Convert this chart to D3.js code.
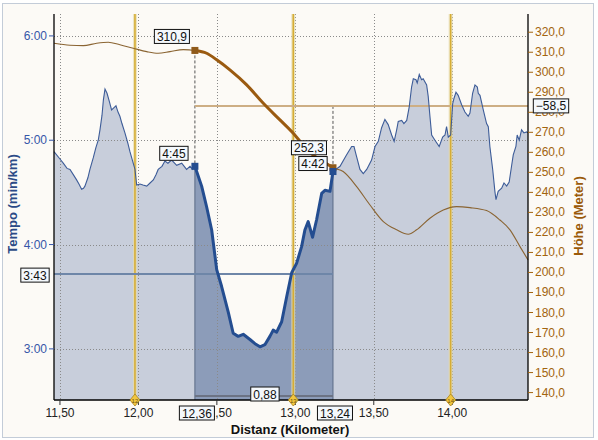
<!DOCTYPE html>
<html><head><meta charset="utf-8">
<script src="https://cdn.jsdelivr.net/npm/d3@7"></script>
<style>
body{margin:0;background:#ffffff}
svg{display:block}
text{font-family:"Liberation Sans",Arial,sans-serif}
</style>
</head><body>
<svg id="chart" width="598" height="440"></svg>
<script>
// ---------- data ----------
const paceDist = [11.462,11.50,11.521,11.545,11.564,11.585,11.606,11.621,11.638,11.650,11.659,11.678,11.691,11.712,11.729,11.744,11.755,11.768,11.777,11.787,11.800,11.815,11.829,11.843,11.857,11.870,11.882,11.895,11.914,11.933,11.946,11.965,11.978,11.989,12.010,12.029,12.053,12.074,12.095,12.112,12.126,12.150,12.169,12.188,12.212,12.244,12.276,12.307,12.329,12.346,12.36,
  12.403,12.435,12.467,12.499,12.530,12.573,12.604,12.636,12.668,12.711,12.743,12.775,12.806,12.838,12.859,12.881,12.913,12.945,12.977,13.008,13.040,13.061,13.082,13.110,13.136,13.168,13.189,13.221,13.24,
  13.285,13.327,13.359,13.374,13.391,13.412,13.433,13.455,13.486,13.508,13.529,13.550,13.571,13.592,13.614,13.630,13.646,13.656,13.678,13.692,13.710,13.726,13.741,13.752,13.769,13.777,13.790,13.805,13.815,13.837,13.847,13.858,13.869,13.890,13.917,13.939,13.954,13.964,13.975,13.990,14.003,14.011,14.024,14.038,14.060,14.081,14.102,14.113,14.130,14.145,14.160,14.166,14.177,14.198,14.219,14.230,14.240,14.258,14.272,14.279,14.293,14.315,14.330,14.347,14.363,14.379,14.389,14.406,14.414,14.427,14.442,14.457,14.474,14.483];
const paceVal = [4.89,4.82,4.78,4.73,4.72,4.67,4.62,4.58,4.53,4.54,4.56,4.64,4.72,4.83,4.93,5.00,5.10,5.24,5.39,5.49,5.45,5.37,5.29,5.31,5.33,5.27,5.23,5.16,5.07,4.97,4.89,4.79,4.72,4.57,4.58,4.57,4.56,4.59,4.62,4.67,4.72,4.75,4.80,4.78,4.81,4.76,4.78,4.72,4.75,4.72,4.75,
  4.56,4.36,4.14,3.76,3.60,3.35,3.15,3.12,3.14,3.09,3.05,3.02,3.04,3.12,3.18,3.16,3.26,3.50,3.73,3.82,3.98,4.14,4.22,4.07,4.24,4.49,4.52,4.51,4.70,
  4.75,4.86,4.94,4.94,4.84,4.72,4.68,4.72,4.81,4.94,4.99,5.12,5.20,5.15,5.05,4.99,5.10,5.18,5.19,5.16,5.19,5.32,5.51,5.59,5.58,5.55,5.63,5.58,5.59,5.53,5.42,5.23,5.05,5.00,4.94,5.03,5.05,5.13,5.03,5.05,5.35,5.40,5.46,5.43,5.34,5.27,5.23,5.26,5.45,5.53,5.51,5.45,5.43,5.29,5.16,5.13,4.94,4.72,4.51,4.43,4.51,4.54,4.59,4.56,4.60,4.76,4.86,4.94,5.05,5.00,5.10,5.07,5.08,5.07];

const altDist = [11.462,11.564,11.649,11.734,11.808,11.882,11.967,12.053,12.126,12.201,12.286,12.36,12.435,12.499,12.583,12.690,12.796,12.902,12.987,13.040,13.104,13.178,13.24,13.305,13.391,13.476,13.561,13.646,13.720,13.773,13.858,13.943,14.028,14.113,14.219,14.304,14.368,14.432,14.483];
const altVal = [314.5,313.5,313.3,314.5,315.0,313.7,312.0,310.3,309.5,310.3,311.3,310.9,309.5,306.2,301.2,293.7,284.5,276.2,269.5,264.6,259.2,255.4,252.3,250.4,242.9,233.7,225.4,221.3,219.1,221.3,227.1,231.2,232.9,232.4,230.9,226.2,221.3,212.9,206.3];

const xTicks = [11.5,12,12.5,13,13.5,14];
const paceTicks = [3,4,5,6];
const altTicks = [140,150,160,170,180,190,200,210,220,230,240,250,260,270,280,290,300,310,320];
const kmMarkerDist = [11.978,12.987,13.990];
const kmMarkerLabel = ["12","13","14"];

const selStart = 12.36, selEnd = 13.24;
const selAltStart = 310.9, selAltEnd = 252.3;
const selPaceStart = 4.75, selPaceEnd = 4.70;
const selAvgPace = 3 + 43/60;
const selAltDiff = -58.5;
const selAltRef = 283.2;
const selLength = 0.88;

// ---------- layout ----------
const L = 54, R = 528, T = 14, B = 400;
const svg = d3.select("#chart");
const x = d3.scaleLinear().domain([11.462, 14.483]).range([L, R]);
const yP = d3.scaleLinear().domain([2.51, 6.21]).range([B, T]);
const yA = d3.scaleLinear().domain([136.3, 329.1]).range([B, T]);

const fmtKm = v => d3.format(".2f")(v).replace(".", ",");
const fmtAlt = v => d3.format(".1f")(v).replace(".", ",");
const fmtPace = v => { let m = Math.floor(v), s = Math.round((v - m) * 60); if (s === 60) { m++; s = 0; } return m + ":" + String(s).padStart(2, "0"); };

// frame
svg.append("rect").attr("x", 0).attr("y", 0).attr("width", 598).attr("height", 440).attr("fill", "#ffffff");
svg.append("rect").attr("x", 2.5).attr("y", 3.5).attr("width", 591).attr("height", 434)
  .attr("fill", "#fcfaf6").attr("stroke", "#c3ccd8");

const pace = paceDist.map((d, i) => ({d, v: paceVal[i]}));
const alt = altDist.map((d, i) => ({d, v: altVal[i]}));
const paceSel = pace.filter(p => p.d >= selStart - 1e-9 && p.d <= selEnd + 1e-9);
const altSel = alt.filter(p => p.d >= selStart - 1e-9 && p.d <= selEnd + 1e-9);

const area = d3.area().x(p => x(p.d)).y0(B).y1(p => yP(p.v));
const paceLine = d3.line().x(p => x(p.d)).y(p => yP(p.v));
const altLine = d3.line().x(p => x(p.d)).y(p => yA(p.v)).curve(d3.curveMonotoneX);

// fills
svg.append("path").datum(pace).attr("d", area).attr("fill", "#c8cedb");
svg.append("path").datum(paceSel).attr("d", area).attr("fill", "#8c9cb9");

// gridlines
const grid = svg.append("g").attr("stroke", "#8a8a8a").attr("stroke-width", 1).attr("stroke-dasharray", "1,2");
xTicks.forEach(t => grid.append("line").attr("x1", Math.round(x(t)) + 0.5).attr("x2", Math.round(x(t)) + 0.5).attr("y1", T).attr("y2", B));
paceTicks.forEach(t => grid.append("line").attr("x1", L).attr("x2", R).attr("y1", Math.round(yP(t)) + 0.5).attr("y2", Math.round(yP(t)) + 0.5));

// km marker lines
kmMarkerDist.forEach(d => {
  svg.append("line").attr("x1", x(d)).attr("x2", x(d)).attr("y1", T).attr("y2", B)
    .attr("stroke", "#e6dcae").attr("stroke-width", 4).attr("opacity", 0.7);
  svg.append("line").attr("x1", x(d)).attr("x2", x(d)).attr("y1", T).attr("y2", B)
    .attr("stroke", "#d6ad35").attr("stroke-width", 1.6);
});

// selection edges
svg.append("line").attr("x1", x(selStart)).attr("x2", x(selStart)).attr("y1", yP(selPaceStart)).attr("y2", B).attr("stroke", "#5a6a86").attr("stroke-width", 1);
svg.append("line").attr("x1", x(selEnd)).attr("x2", x(selEnd)).attr("y1", yP(selPaceEnd)).attr("y2", B).attr("stroke", "#5a6a86").attr("stroke-width", 1);
svg.append("line").attr("x1", x(selStart)).attr("x2", x(selStart)).attr("y1", yA(selAltStart)).attr("y2", yP(selPaceStart)).attr("stroke", "#555").attr("stroke-dasharray", "3,2");
svg.append("line").attr("x1", x(selEnd)).attr("x2", x(selEnd)).attr("y1", yA(selAltRef)).attr("y2", yP(selPaceEnd)).attr("stroke", "#555").attr("stroke-dasharray", "3,2");

// average pace line
svg.append("line").attr("x1", L).attr("x2", x(selEnd)).attr("y1", yP(selAvgPace)).attr("y2", yP(selAvgPace))
  .attr("stroke", "#6e86a8").attr("stroke-width", 2);
// altitude reference line
svg.append("line").attr("x1", x(selStart)).attr("x2", R).attr("y1", yA(selAltRef)).attr("y2", yA(selAltRef))
  .attr("stroke", "#cdae84").attr("stroke-width", 2);
// length line
svg.append("line").attr("x1", x(selStart)).attr("x2", x(selEnd)).attr("y1", B - 4).attr("y2", B - 4)
  .attr("stroke", "#6c7384").attr("stroke-width", 2);

// pace lines
svg.append("path").datum(pace).attr("d", paceLine).attr("fill", "none").attr("stroke", "#3d5c98").attr("stroke-width", 1.1);
svg.append("path").datum(paceSel).attr("d", paceLine).attr("fill", "none").attr("stroke", "#244d90").attr("stroke-width", 3).attr("stroke-linejoin", "round");

// altitude lines
svg.append("path").datum(alt).attr("d", altLine).attr("fill", "none").attr("stroke", "#8a6432").attr("stroke-width", 1.1);
svg.append("path").datum(altSel).attr("d", altLine).attr("fill", "none").attr("stroke", "#9a5a10").attr("stroke-width", 3);

// markers
[[selStart, yA(selAltStart), "#8f5a1a"], [selEnd, yA(selAltEnd), "#8f5a1a"], [selStart, yP(selPaceStart), "#244d90"], [selEnd, yP(selPaceEnd), "#244d90"]]
  .forEach(([d, yy, c]) => svg.append("rect").attr("x", x(d) - 3.5).attr("y", yy - 3.5).attr("width", 7).attr("height", 7).attr("fill", c));

// axes lines
const ax = svg.append("g").attr("stroke", "#000").attr("stroke-width", 1.3);
ax.append("line").attr("x1", L).attr("x2", L).attr("y1", T).attr("y2", B);
ax.append("line").attr("x1", R).attr("x2", R).attr("y1", T).attr("y2", B);
ax.append("line").attr("x1", L).attr("x2", R).attr("y1", B).attr("y2", B);

// x ticks
const xa = svg.append("g");
xTicks.forEach(t => {
  xa.append("line").attr("x1", x(t)).attr("x2", x(t)).attr("y1", B).attr("y2", B + 5).attr("stroke", "#333");
  xa.append("text").attr("x", x(t)).attr("y", B + 17).attr("text-anchor", "middle").attr("font-size", 12).attr("fill", "#222").text(fmtKm(t));
});
// left ticks
paceTicks.forEach(t => {
  svg.append("line").attr("x1", L - 5).attr("x2", L).attr("y1", yP(t)).attr("y2", yP(t)).attr("stroke", "#3656a8");
  svg.append("text").attr("x", L - 7).attr("y", yP(t) + 4).attr("text-anchor", "end").attr("font-size", 12).attr("fill", "#3656a8").text(fmtPace(t));
});
// right ticks
altTicks.forEach(t => {
  svg.append("line").attr("x1", R).attr("x2", R + 5).attr("y1", yA(t)).attr("y2", yA(t)).attr("stroke", "#a2640e");
  svg.append("text").attr("x", R + 7).attr("y", yA(t) + 4).attr("text-anchor", "start").attr("font-size", 12).attr("fill", "#a2640e").text(fmtAlt(t));
});

// km marker diamonds
kmMarkerDist.forEach((d, i) => {
  const cx = x(d);
  svg.append("path").attr("d", `M${cx},${B - 6}L${cx + 5},${B}L${cx},${B + 6}L${cx - 5},${B}Z`)
    .attr("fill", "#f1c640").attr("stroke", "#a88420").attr("stroke-width", 0.8);
  svg.append("text").attr("x", cx).attr("y", B + 2.5).attr("text-anchor", "middle").attr("font-size", 6).attr("fill", "#6a5010").text(kmMarkerLabel[i]);
});

// axis titles
svg.append("text").attr("transform", "translate(17,204) rotate(-90)").attr("text-anchor", "middle")
  .attr("font-size", 13).attr("font-weight", "bold").attr("fill", "#2b4a86").text("Tempo (min/km)");
svg.append("text").attr("transform", "translate(583,216) rotate(-90)").attr("text-anchor", "middle")
  .attr("font-size", 13).attr("font-weight", "bold").attr("fill", "#9a5a0a").text("Höhe (Meter)");
svg.append("text").attr("x", 290).attr("y", 434).attr("text-anchor", "middle")
  .attr("font-size", 13).attr("font-weight", "bold").attr("fill", "#111").text("Distanz (Kilometer)");

// label boxes
function box(cx, cy, txt) {
  const g = svg.append("g");
  const t = g.append("text").attr("x", cx).attr("y", cy + 4.5).attr("text-anchor", "middle").attr("font-size", 12).attr("fill", "#111").text(txt);
  const w = t.node().getComputedTextLength() + 5;
  g.insert("rect", "text").attr("x", cx - w / 2).attr("y", cy - 7).attr("width", w).attr("height", 14)
    .attr("fill", "#f4f8fc").attr("stroke", "#111").attr("stroke-width", 1);
}
box(x(selStart) - 23, yA(selAltStart) - 14, fmtAlt(selAltStart));
box(x(selStart) - 21, yP(selPaceStart) - 13, fmtPace(selPaceStart));
box(x(selEnd) - 24, yA(selAltEnd) - 20, fmtAlt(selAltEnd));
box(x(selEnd) - 20, yP(selPaceEnd) - 8, fmtPace(selPaceEnd));
box(35, yP(selAvgPace) + 1, fmtPace(selAvgPace));
box(551, yA(selAltRef), fmtAlt(selAltDiff));
box((x(selStart) + x(selEnd)) / 2 + 1, B - 6, fmtKm(selLength));
box(x(selStart) + 2, B + 13, fmtKm(selStart));
box(x(selEnd) + 2, B + 13, fmtKm(selEnd));
</script>
</body></html>
